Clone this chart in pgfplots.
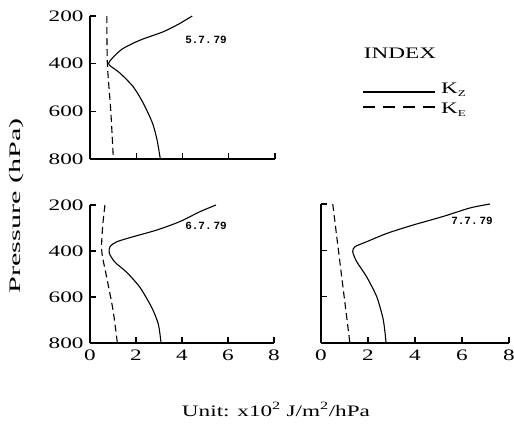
\documentclass[border=0pt]{standalone}
\usepackage{fontspec}
\setmainfont{Liberation Serif}[FakeStretch=1.45]
\newfontfamily\datefont{Liberation Mono}
\usepackage{pgfplots}
\pgfplotsset{compat=1.18}

\pgfplotsset{
  panel/.style={
    scale only axis,
    xmin=0, xmax=8, ymin=200, ymax=800, y dir=reverse,
    axis x line=bottom, axis y line=left,
    axis line style={-, line width=1.1pt},
    tick align=inside, major tick length=6pt,
    every tick/.style={line width=1.1pt, black},
    xtick={0,2,4,6,8}, ytick={200,400,600,800},
    tick label style={font=\fontsize{16}{18}\selectfont},
    /pgf/number format/assume math mode=true,
    yticklabel style={xshift=-3pt},
    xticklabel style={yshift=-3pt},
    clip=false,
  },
  kz/.style={black, line width=1.1pt, smooth, tension=0.45},
  ke/.style={black, line width=1.1pt, dash pattern=on 7pt off 4pt, smooth, tension=0.45},
}

\begin{document}
\begin{tikzpicture}
\useasboundingbox (0,0) rectangle (514pt,-423pt);

% 5.7.79
\begin{axis}[panel, at={(90pt,-159pt)}, anchor=south west,
  width=185pt, height=143pt, xticklabels={}]
\addplot[kz] coordinates {(4.42,200) (3.85,233) (3.17,266) (2.17,301) (1.45,335)
  (1.09,364) (0.85,390) (0.8,400) (0.9,411) (1.3,440) (1.87,497) (2.3,565)
  (2.7,649) (2.9,720) (3.04,800)};
\addplot[ke] coordinates {(0.73,200) (0.75,400) (0.9,600) (1.01,800)};
\end{axis}

% 6.7.79
\begin{axis}[panel, at={(90pt,-343pt)}, anchor=south west,
  width=184pt, height=138pt]
\addplot[kz] coordinates {(5.48,200) (4.78,229) (3.91,272) (2.9,309) (1.87,338)
  (1.16,360) (0.87,381) (0.84,410) (1.09,449) (1.6,493) (2.17,558) (2.68,645)
  (2.97,718) (3.09,800)};
\addplot[ke] coordinates {(0.65,200) (0.55,294) (0.51,400) (0.72,512) (1.0,656) (1.19,800)};
\end{axis}

% 7.7.79
\begin{axis}[panel, at={(321pt,-343pt)}, anchor=south west,
  width=188pt, height=139pt, yticklabels={}]
\addplot[kz] coordinates {(7.19,200) (6.34,217) (5.19,254) (3.91,291) (2.8,327)
  (1.94,363) (1.45,384) (1.35,406) (1.52,449) (1.94,514) (2.37,600) (2.65,700)
  (2.77,800)};
\addplot[ke] coordinates {(0.5,200) (0.81,456) (1.23,800)};
\end{axis}

% dates
\tikzset{date/.style={font=\datefont\bfseries\fontsize{11}{12}\selectfont}}
\node[date] at (206pt,-40pt) {5.7.\,79};
\node[date] at (206pt,-226pt) {6.7.\,79};
\node[date] at (472pt,-221pt) {7.7.\,79};

% legend
\node[font=\fontsize{16}{18}\selectfont] at (400pt,-53pt) {INDEX};
\draw[line width=1.1pt] (363pt,-92pt) -- (435pt,-92pt);
\draw[line width=1.1pt, dash pattern=on 12pt off 8pt] (363pt,-107pt) -- (437pt,-107pt);
\node[anchor=base west, inner sep=0pt, font=\fontsize{16}{18}\selectfont]
  at (441pt,-93pt) {K\raisebox{-3pt}{\fontsize{9}{10}\selectfont Z}};
\node[anchor=base west, inner sep=0pt, font=\fontsize{16}{18}\selectfont]
  at (441pt,-113pt) {K\raisebox{-3pt}{\fontsize{9}{10}\selectfont E}};

% axis titles
\node[rotate=90, font=\fontsize{16}{18}\selectfont] at (17pt,-206pt)
  {\scalebox{1.3}[1]{Pressure (hPa)}};
\node[anchor=base, inner sep=0pt, font=\fontsize{16}{18}\selectfont] at (276pt,-416pt)
  {Unit: x10\textsuperscript{2} J/m\textsuperscript{2}/hPa};
\end{tikzpicture}
\end{document}
